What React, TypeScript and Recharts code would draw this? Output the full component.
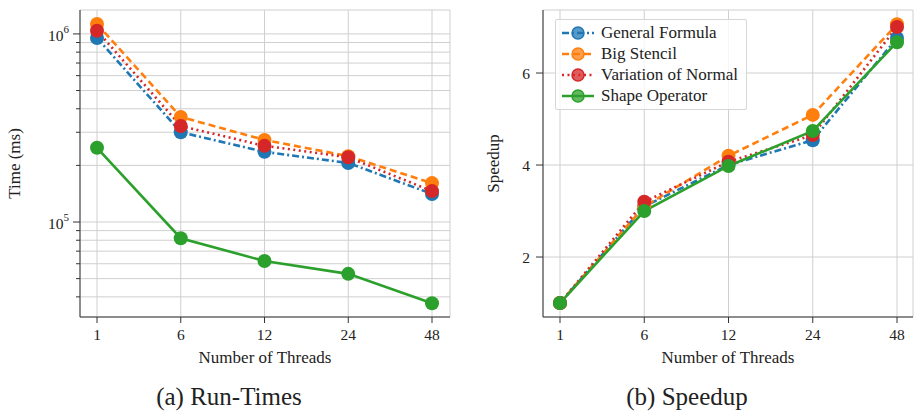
import React from 'react';
import { LineChart, Line, XAxis, YAxis, CartesianGrid, Legend } from 'recharts';

const threads = ['1', '6', '12', '24', '48'];

// Run-times (ms), log scale
const timeGeneral = [952000, 300000, 236000, 206000, 141000];
const timeBigStencil = [1130000, 362000, 273000, 224000, 161000];
const timeVariation = [1040000, 324000, 254000, 221000, 146000];
const timeShape = [248000, 82000, 62000, 53000, 37000];

// Speedup
const speedGeneral = [1, 3.1, 4.0, 4.54, 6.76];
const speedBigStencil = [1, 3.1, 4.2, 5.09, 7.06];
const speedVariation = [1, 3.2, 4.07, 4.65, 7.0];
const speedShape = [1, 3.0, 3.98, 4.74, 6.67];

const majorTimeTicks = [100000, 1000000];
const minorTimeTicks = [40000, 50000, 60000, 70000, 80000, 90000, 200000, 300000, 400000, 500000, 600000, 700000, 800000, 900000];
const speedTicks = [2, 4, 6];

const FONT = '"Liberation Serif", "DejaVu Serif", serif';
const TEXT = '#222';
const AXIS = '#333';
const GRID = '#cfcfcf';

const series = [
  { key: 'general', name: 'General Formula', color: '#1f77b4', dash: '7 3 2 3' },
  { key: 'big', name: 'Big Stencil', color: '#ff7f0e', dash: '7 4' },
  { key: 'variation', name: 'Variation of Normal', color: '#d62728', dash: '2 3.5' },
  { key: 'shape', name: 'Shape Operator', color: '#2ca02c', dash: undefined as string | undefined },
];

const timeRows = threads.map((t, i) => ({
  threads: t,
  general: timeGeneral[i],
  big: timeBigStencil[i],
  variation: timeVariation[i],
  shape: timeShape[i],
}));

const speedRows = threads.map((t, i) => ({
  threads: t,
  general: speedGeneral[i],
  big: speedBigStencil[i],
  variation: speedVariation[i],
  shape: speedShape[i],
}));

const allTimeTicks = [...minorTimeTicks, ...majorTimeTicks].sort((a, b) => a - b);

const LogTick = (props: any) => {
  const { x, y, payload } = props;
  const axisX = x + 11;
  const major = majorTimeTicks.includes(payload.value);
  const exp = Math.round(Math.log10(payload.value));
  return (
    <g>
      <line x1={axisX - (major ? 7 : 4)} x2={axisX} y1={y} y2={y} stroke={AXIS} strokeWidth={1} />
      {major && (
        <text x={axisX - 11} y={y + 1} textAnchor="end" dominantBaseline="central" fill={TEXT} fontFamily={FONT} fontSize={15.5}>
          <tspan>10</tspan>
          <tspan dy={-6} fontSize={11}>{exp}</tspan>
        </text>
      )}
    </g>
  );
};

const xLabel = (props: any) => {
  const { viewBox } = props;
  return (
    <text x={viewBox.x + viewBox.width / 2} y={357} textAnchor="middle" dominantBaseline="central" fill={TEXT} fontFamily={FONT} fontSize={17}>
      Number of Threads
    </text>
  );
};

const yLabel = (text: string, cx: number) => (props: any) => {
  const { viewBox } = props;
  const cy = viewBox.y + viewBox.height / 2;
  return (
    <text transform={`translate(${cx},${cy}) rotate(-90)`} textAnchor="middle" dominantBaseline="central" fill={TEXT} fontFamily={FONT} fontSize={17}>
      {text}
    </text>
  );
};

const LegendBox = () => (
  <div
    style={{
      background: 'rgba(255,255,255,0.8)',
      border: '1px solid #d6d6d6',
      borderRadius: 2,
      padding: '3px 8px 3px 6px',
      fontFamily: FONT,
      fontSize: 17,
      color: TEXT,
    }}
  >
    {series.map((s) => (
      <div key={s.key} style={{ display: 'flex', alignItems: 'center', height: 20.8 }}>
        <svg width={32} height={16} style={{ marginRight: 7 }}>
          <line x1={0} x2={32} y1={8} y2={8} stroke={s.color} strokeWidth={2.5} strokeDasharray={s.dash} />
          <circle cx={16} cy={8} r={6} fill={s.color} fillOpacity={0.75} stroke={s.color} strokeWidth={1.5} />
        </svg>
        <span>{s.name}</span>
      </div>
    ))}
  </div>
);

const renderLines = () =>
  series.map((s) => (
    <Line
      key={s.key}
      type="linear"
      dataKey={s.key}
      name={s.name}
      stroke={s.color}
      strokeWidth={2.6}
      strokeDasharray={s.dash}
      dot={{ r: 7, fill: s.color, stroke: 'none', strokeDasharray: 'none' }}
      activeDot={false}
      isAnimationActive={false}
    />
  ));

const captionStyle: React.CSSProperties = {
  position: 'absolute',
  top: 382,
  width: 458,
  textAlign: 'center',
  fontFamily: FONT,
  fontSize: 25,
  color: TEXT,
  lineHeight: '30px',
};

export default function App() {
  return (
    <div style={{ position: 'absolute', left: 0, top: 0, width: 916, height: 412, background: '#fff' }}>
      <div style={{ position: 'absolute', left: 0, top: 0 }}>
        <LineChart width={460} height={370} data={timeRows} margin={{ top: 10, right: 10, left: 0, bottom: 3 }}>
          <CartesianGrid stroke={GRID} strokeWidth={1} />
          <XAxis
            dataKey="threads"
            type="category"
            padding={{ left: 17, right: 18 }}
            height={50}
            tickSize={6}
            tickMargin={6}
            stroke={AXIS}
            tick={{ fill: TEXT, fontFamily: FONT, fontSize: 15.5 }}
            label={xLabel}
          />
          <XAxis xAxisId="top" dataKey="threads" orientation="top" height={0} tick={false} tickLine={false} stroke={AXIS} />
          <YAxis
            scale="log"
            domain={[31260, 1340000]}
            allowDataOverflow
            ticks={allTimeTicks}
            interval={0}
            width={80}
            tickSize={7}
            tickMargin={4}
            tickLine={false}
            stroke={AXIS}
            tick={<LogTick />}
            label={yLabel('Time (ms)', 14)}
          />
          <YAxis yAxisId="r" orientation="right" width={0} tick={false} tickLine={false} stroke={AXIS} />
          {renderLines()}
        </LineChart>
      </div>
      <div style={{ ...captionStyle, left: 0 }}>(a) Run-Times</div>

      <div style={{ position: 'absolute', left: 460, top: 0 }}>
        <LineChart width={456} height={370} data={speedRows} margin={{ top: 10, right: 3, left: 0, bottom: 3 }}>
          <CartesianGrid stroke={GRID} strokeWidth={1} />
          <XAxis
            dataKey="threads"
            type="category"
            padding={{ left: 17, right: 16 }}
            height={50}
            tickSize={6}
            tickMargin={6}
            stroke={AXIS}
            tick={{ fill: TEXT, fontFamily: FONT, fontSize: 15.5 }}
            label={xLabel}
          />
          <XAxis xAxisId="top" dataKey="threads" orientation="top" height={0} tick={false} tickLine={false} stroke={AXIS} />
          <YAxis
            type="number"
            domain={[0.696, 7.37]}
            allowDataOverflow
            ticks={speedTicks}
            width={83}
            tickSize={7}
            tickMargin={6}
            stroke={AXIS}
            tick={{ fill: TEXT, fontFamily: FONT, fontSize: 15.5 }}
            label={yLabel('Speedup', 33)}
          />
          <YAxis yAxisId="r" orientation="right" width={0} tick={false} tickLine={false} stroke={AXIS} />
          {renderLines()}
          <Legend
            layout="vertical"
            align="center"
            verticalAlign="middle"
            wrapperStyle={{ left: 95, top: 19, width: 'auto' }}
            content={() => <LegendBox />}
          />
        </LineChart>
      </div>
      <div style={{ ...captionStyle, left: 458 }}>(b) Speedup</div>
    </div>
  );
}
